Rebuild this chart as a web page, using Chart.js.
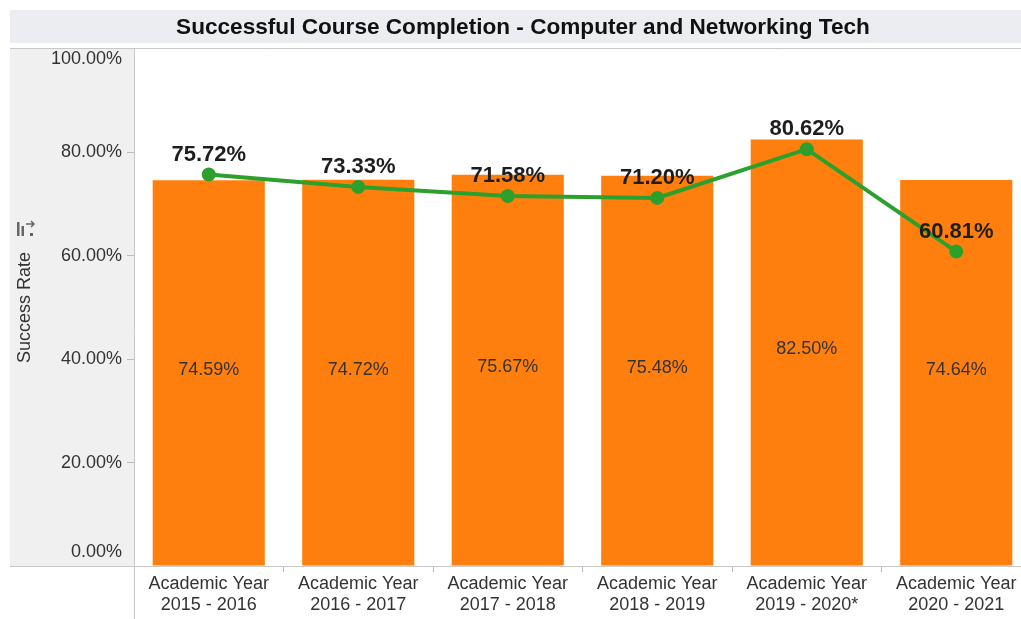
<!DOCTYPE html>
<html>
<head>
<script src="https://cdn.jsdelivr.net/npm/chart.js@4"></script>
<style>
  body { margin: 0; overflow: hidden; background: #fff; }
  #wrap { width: 1040px; height: 619px; position: relative; }
</style>
</head>
<body>
<div id="wrap"><canvas id="myChart"></canvas></div>
<script>
// data
const years = [
  ['Academic Year', '2015 - 2016'],
  ['Academic Year', '2016 - 2017'],
  ['Academic Year', '2017 - 2018'],
  ['Academic Year', '2018 - 2019'],
  ['Academic Year', '2019 - 2020*'],
  ['Academic Year', '2020 - 2021']
];
const collegeRate = [74.59, 74.72, 75.67, 75.48, 82.50, 74.64];
const programRate = [75.72, 73.33, 71.58, 71.20, 80.62, 60.81];
const yTicks = [0, 20, 40, 60, 80, 100];

const FONT = "'Liberation Sans', Arial, sans-serif";

function pct(v) { return v.toFixed(2) + '%'; }

const decor = {
  id: 'decor',
  beforeDraw(chart) {
    const ctx = chart.ctx;
    const a = chart.chartArea;
    ctx.save();
    // title band
    ctx.fillStyle = '#ebedf0';
    ctx.fillRect(10, 10, a.right - 10, 33);
    // left axis panel
    ctx.fillStyle = '#f0f0f0';
    ctx.fillRect(10, a.top - 1, a.left - 10, a.bottom - a.top + 1);
    ctx.restore();
  },
  afterDraw(chart) {
    const ctx = chart.ctx;
    const a = chart.chartArea;
    const y = chart.scales.y;
    ctx.save();
    ctx.strokeStyle = '#c8c8c8';
    ctx.lineWidth = 1;
    ctx.beginPath();
    ctx.moveTo(10, a.top - 0.5); ctx.lineTo(chart.width, a.top - 0.5);
    ctx.moveTo(10, a.bottom + 0.5); ctx.lineTo(chart.width, a.bottom + 0.5);
    ctx.moveTo(a.left + 0.5, a.top - 1); ctx.lineTo(a.left + 0.5, chart.height);
    ctx.stroke();

    // y tick labels (top one sits below the edge, bottom one above)
    ctx.fillStyle = '#333';
    ctx.font = '18px ' + FONT;
    ctx.textAlign = 'right';
    ctx.textBaseline = 'middle';
    yTicks.forEach(v => {
      let py = y.getPixelForValue(v);
      if (v === 100) py += 10;
      if (v === 0) py -= 14;
      ctx.fillText(pct(v), a.left - 12, py);
    });

    // sort icon next to axis title
    ctx.fillStyle = '#666';
    ctx.fillRect(17, 222, 2.5, 14);
    ctx.fillRect(21.5, 226, 2.5, 10);
    ctx.fillRect(30, 233, 3, 3);
    ctx.strokeStyle = '#666';
    ctx.lineWidth = 1.5;
    ctx.beginPath();
    ctx.moveTo(26, 224); ctx.lineTo(34, 224);
    ctx.moveTo(31, 221); ctx.lineTo(34, 224); ctx.lineTo(31, 227);
    ctx.stroke();

    // labels inside bars (dataset 1 = bars)
    ctx.textAlign = 'center';
    ctx.fillStyle = '#333';
    ctx.font = '18px ' + FONT;
    chart.getDatasetMeta(1).data.forEach((bar, i) => {
      ctx.fillText(pct(collegeRate[i]), bar.x, (bar.y + bar.base) / 2 - 3);
    });

    // labels above line points (dataset 0 = line)
    ctx.fillStyle = '#1e1e1e';
    ctx.font = 'bold 22px ' + FONT;
    chart.getDatasetMeta(0).data.forEach((pt, i) => {
      ctx.fillText(pct(programRate[i]), pt.x, pt.y - 20);
    });
    ctx.restore();
  }
};

new Chart(document.getElementById('myChart'), {
  data: {
    labels: years,
    datasets: [
      {
        type: 'line',
        label: 'Program',
        data: programRate,
        borderColor: '#2ca02c',
        backgroundColor: '#2ca02c',
        borderWidth: 4,
        pointRadius: 5,
        pointHoverRadius: 5,
        tension: 0,
        order: 0
      },
      {
        type: 'bar',
        label: 'College',
        data: collegeRate,
        backgroundColor: '#ff7f0e',
        categoryPercentage: 1,
        barPercentage: 0.75,
        order: 1
      }
    ]
  },
  options: {
    responsive: true,
    maintainAspectRatio: false,
    animation: false,
    layout: { padding: { left: 10, right: 4, top: 0, bottom: 0 } },
    plugins: {
      legend: { display: false },
      tooltip: { enabled: false },
      title: {
        display: true,
        text: 'Successful Course Completion - Computer and Networking Tech',
        color: '#111',
        font: { family: FONT, size: 22.6, weight: 'bold', lineHeight: '25px' },
        padding: { top: 15, bottom: 9 }
      }
    },
    scales: {
      x: {
        type: 'category',
        offset: true,
        border: { display: false },
        grid: { offset: true, drawOnChartArea: false, tickLength: 6, color: '#bbb' },
        ticks: {
          color: '#333',
          font: { family: FONT, size: 18, lineHeight: 1.17 },
          padding: 1.5,
          maxRotation: 0,
          autoSkip: false
        },
        afterFit(scale) { scale.height = 53; }
      },
      y: {
        min: 0,
        max: 100,
        border: { display: false },
        grid: {
          drawOnChartArea: false,
          tickLength: 7,
          color: c => (c.tick && (c.tick.value === 0 || c.tick.value === 100)) ? 'rgba(0,0,0,0)' : '#bbb'
        },
        ticks: { display: false, stepSize: 20 },
        title: {
          display: true,
          text: 'Success Rate',
          color: '#333',
          font: { family: FONT, size: 18 },
          padding: { top: 4, bottom: 0 }
        },
        afterFit(scale) { scale.width = 124; }
      }
    }
  },
  plugins: [decor]
});
</script>
</body>
</html>
